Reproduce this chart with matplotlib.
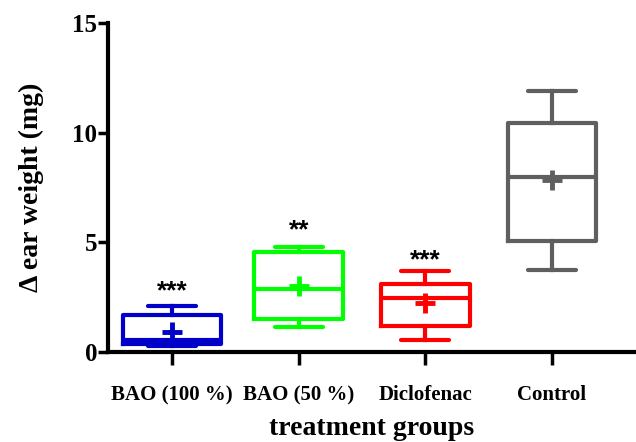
import matplotlib
matplotlib.use('Agg')
import matplotlib.pyplot as plt

plt.rcParams.update({'font.family': 'Liberation Serif', 'font.weight': 'bold'})

groups = ['BAO (100 %)', 'BAO (50 %)', 'Diclofenac', 'Control']
whisker_low = [0.28, 1.15, 0.55, 3.75]
q1 = [0.38, 1.50, 1.20, 5.05]
median = [0.55, 2.88, 2.47, 8.00]
q3 = [1.70, 4.58, 3.10, 10.43]
whisker_high = [2.08, 4.78, 3.70, 11.90]
mean = [0.92, 3.00, 2.25, 7.85]
stars = ['***', '**', '***', '']
star_y = [2.2, 5.0, 3.62, 0]
colors = ['#0000C8', '#00FF00', '#FF0000', '#5F5F5F']
box_w = [0.77, 0.7, 0.7, 0.7]

stats = []
for i in range(len(groups)):
    stats.append({'whislo': whisker_low[i], 'q1': q1[i], 'med': median[i],
                  'q3': q3[i], 'whishi': whisker_high[i], 'mean': mean[i],
                  'fliers': [], 'label': groups[i]})

fig = plt.figure(figsize=(6.36, 4.42), dpi=100)
ax = fig.add_axes([0.17, 0.2036, 0.83, 0.7443])

lw = 3.0
for i, st in enumerate(stats):
    c = colors[i]
    ax.bxp([st], positions=[i], widths=box_w[i], capwidths=0.38, showmeans=True,
           boxprops=dict(color=c, linewidth=lw),
           whiskerprops=dict(color=c, linewidth=lw),
           capprops=dict(color=c, linewidth=lw, solid_capstyle='round'),
           medianprops=dict(color=c, linewidth=lw),
           meanprops=dict(marker='+', markeredgecolor=c, markersize=14,
                          markeredgewidth=3.5))
    if stars[i]:
        ax.text(i, star_y[i], stars[i], ha='center', va='bottom',
                fontsize=19, family='Liberation Sans', fontweight='bold')

ax.set_xlim(-0.505, 3.663)
ax.set_ylim(0, 15)
ax.set_yticks([0, 5, 10, 15])
ax.set_xticks(range(len(groups)))
ax.set_xticklabels(groups, fontsize=15, fontweight='bold')
ax.tick_params(axis='y', labelsize=18, width=2.5, length=7, pad=1)
ax.tick_params(axis='x', width=2.5, length=9, pad=15)
for lab in ax.get_yticklabels():
    lab.set_fontweight('bold')

for s in ['top', 'right']:
    ax.spines[s].set_visible(False)
for s in ['left', 'bottom']:
    ax.spines[s].set_linewidth(3)

ax.set_ylabel('Δ ear weight (mg)', fontsize=20, fontweight='bold', labelpad=20)
ax.set_xlabel('treatment groups', fontsize=20, fontweight='bold', labelpad=8)

fig.savefig('out.png', dpi=100)
